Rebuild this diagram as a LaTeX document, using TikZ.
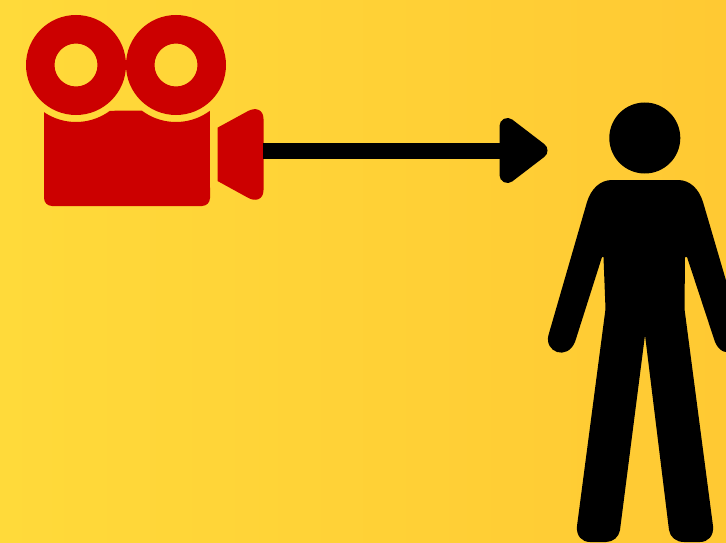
\documentclass[tikz,border=0pt]{standalone}
\tikzset{
  reel/.style={fill=camred,even odd rule},
  camerapart/.style={fill=camred},
  figure/.style={fill=black},
  shaft/.style={draw=black,line width=16pt},
  headtip/.style={draw=black,fill=black,line width=16pt,line join=round},
}
\definecolor{camred}{RGB}{204,0,0}
\definecolor{bgleft}{RGB}{255,218,58}
\definecolor{bgright}{RGB}{255,201,51}
\begin{document}
\begin{tikzpicture}[x=1pt,y=-1pt]
\useasboundingbox (0,0) rectangle (726,543);
\shade[left color=bgleft,right color=bgright,shading angle=90] (0,0) rectangle (726,543);
% camera reels
\path[reel] (76,65) circle[radius=50pt] (76,65) circle[radius=21.5pt];
\path[reel] (176,65) circle[radius=50pt] (176,65) circle[radius=21.5pt];
% camera body
\path[camerapart] (44,112)
  -- plot[domain=124:53.4,samples=24,smooth] ({76+57*cos(\x)},{65+57*sin(\x)})
  -- (142,110.7)
  -- plot[domain=126.6:53.4,samples=24,smooth] ({176+57*cos(\x)},{65+57*sin(\x)})
  -- (210,198) .. controls (210,202.4) and (206.4,206) .. (202,206)
  -- (52,206) .. controls (47.6,206) and (44,202.4) .. (44,198) -- cycle;
% camera lens
\path[camerapart] (217.5,127.7) -- (247,111.6)
  .. controls (255.5,106.5) and (263.5,109.5) .. (263.5,119)
  -- (263.5,190)
  .. controls (263.5,199.5) and (255.5,202.5) .. (247,197.2)
  -- (217.5,181) -- cycle;
\coordinate (lensend) at (263,150.5);
\coordinate (headbase) at (505,150.5);
% arrow
\draw[shaft] (lensend) -- (headbase);
\path[headtip] (507.5,126) -- (539.5,150.5) -- (507.5,175) -- cycle;
% person head
\path[figure] (644.8,138) circle[radius=35.5pt];
% person body
\path[figure] (612,180) -- (678,180)
  .. controls (690,180) and (699,189) .. (703,202)
  -- (742,335)
  .. controls (746,352) and (723,361) .. (715,342)
  -- (687,257) -- (685,257) -- (684.5,309)
  -- (713,526)
  .. controls (714,536) and (708,542) .. (700,542)
  -- (684,542)
  .. controls (676,542) and (670,537) .. (669,530)
  -- (645,335)
  -- (620,530)
  .. controls (619,537) and (613,542) .. (606,542)
  -- (590,542)
  .. controls (582,542) and (576,536) .. (577,526)
  -- (605.5,309) -- (603.5,257) -- (602,257)
  -- (575,342)
  .. controls (567,361) and (544,352) .. (548.5,335)
  -- (587,202)
  .. controls (591,189) and (600,180) .. (612,180) -- cycle;
\end{tikzpicture}
\end{document}
